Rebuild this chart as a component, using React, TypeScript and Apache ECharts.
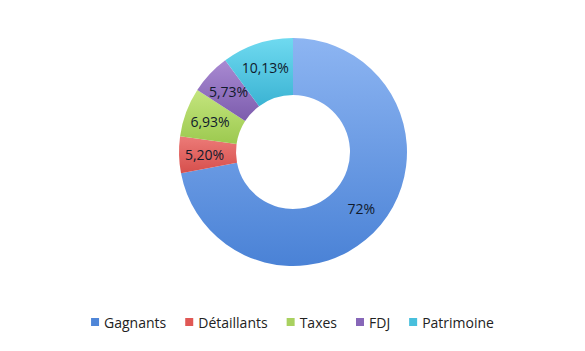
import React, { useEffect, useRef } from "react";
import * as echarts from "echarts";

const categories = ["Gagnants", "Détaillants", "Taxes", "FDJ", "Patrimoine"];
const values = [72, 5.2, 6.93, 5.73, 10.13];
const valueLabels = ["72%", "5,20%", "6,93%", "5,73%", "10,13%"];
const topColors = ["#8db5f2", "#ec7b78", "#c4e57e", "#a98ad2", "#6fdaf0"];
const bottomColors = ["#4a82d6", "#d64f4c", "#9cc94f", "#7c5cad", "#3bb3d3"];
const legendColors = ["#4f86d8", "#e05855", "#a9d160", "#8767b8", "#48bfdc"];

export default function App() {
  const ref = useRef<HTMLDivElement>(null);
  useEffect(() => {
    if (!ref.current) return;
    const chart = echarts.init(ref.current, undefined, { renderer: "svg" });
    chart.setOption({
      animation: false,
      backgroundColor: "#ffffff",
      legend: {
        bottom: 17,
        left: "center",
        itemWidth: 8,
        itemHeight: 8,
        itemGap: 19,
        icon: "rect",
        textStyle: { fontFamily: "Open Sans", fontSize: 14, color: "#222", padding: [0, 0, 0, 0] },
        data: categories.map((c, i) => ({ name: c, itemStyle: { color: legendColors[i] } })),
      },
      series: [
        {
          type: "pie",
          center: [293, 152],
          radius: [57, 114],
          startAngle: 90,
          clockwise: true,
          avoidLabelOverlap: false,
          label: {
            show: true,
            position: "inside",
            fontFamily: "Open Sans",
            fontSize: 14,
            color: "#101a2c",
            formatter: (p: any) => valueLabels[p.dataIndex],
          },
          labelLine: { show: false },
          itemStyle: { borderWidth: 0 },
          emphasis: { disabled: true },
          data: categories.map((c, i) => ({
            name: c,
            value: values[i],
            itemStyle: {
              color: new echarts.graphic.LinearGradient(0, 0, 0, 1, [
                { offset: 0, color: topColors[i] },
                { offset: 1, color: bottomColors[i] },
              ]),
            },
          })),
        },
      ],
    });
    return () => chart.dispose();
  }, []);
  return <div ref={ref} style={{ width: 585, height: 351, position: "absolute", left: 0, top: 0 }} />;
}
